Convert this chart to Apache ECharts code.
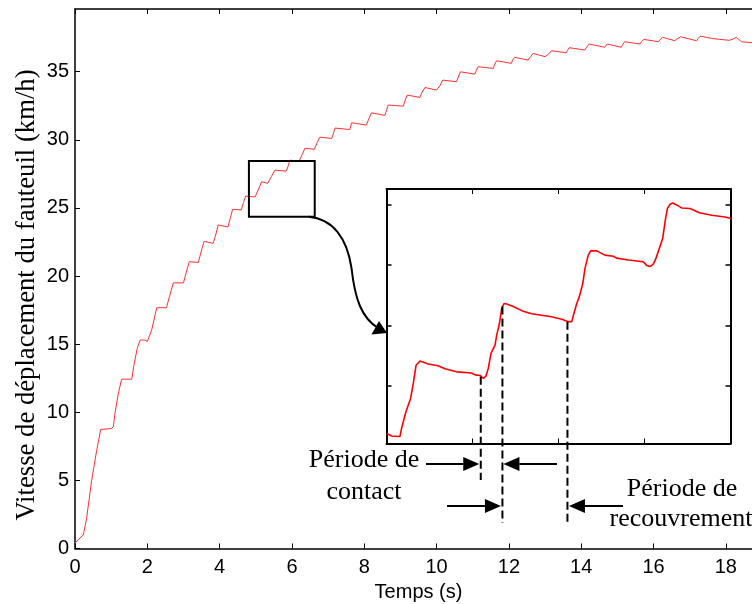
<!DOCTYPE html>
<html><head><meta charset="utf-8">
<script src="https://cdn.jsdelivr.net/npm/echarts@6/dist/echarts.min.js"></script>
<style>html,body{margin:0;padding:0;background:#fff;} #c{width:752px;height:604px;}</style>
</head><body><div id="c"></div>
<script>
// Main curve: time (s) and wheelchair speed (km/h)
const mainTime = [0, 0.23, 0.32, 0.46, 0.6, 0.71, 1.0, 1.06, 1.11, 1.2, 1.29, 1.57, 1.63, 1.72, 1.8, 1.93, 2.0, 2.12, 2.26, 2.53, 2.61, 2.72, 3.0, 3.08, 3.16, 3.41, 3.5, 3.57, 3.82, 3.9, 3.96, 4.23, 4.3, 4.36, 4.6, 4.66, 4.72, 4.98, 5.08, 5.16, 5.33, 5.43, 5.53, 5.84, 5.9, 5.94, 6.2, 6.28, 6.36, 6.62, 6.7, 6.77, 7.1, 7.15, 7.19, 7.6, 7.65, 8.06, 8.12, 8.2, 8.57, 8.62, 8.66, 9.08, 9.13, 9.19, 9.54, 9.6, 9.68, 10.0, 10.1, 10.17, 10.55, 10.6, 10.66, 11.06, 11.1, 11.15, 11.57, 11.6, 11.66, 12.07, 12.1, 12.16, 12.53, 12.6, 12.67, 13.0, 13.1, 13.18, 13.59, 13.62, 13.67, 14.1, 14.15, 14.22, 14.65, 14.68, 14.72, 15.11, 15.15, 15.2, 15.62, 15.67, 15.73, 16.13, 16.18, 16.25, 16.59, 16.65, 16.75, 17.19, 17.24, 17.3, 17.6, 17.83, 18.1, 18.2, 18.29, 18.43, 18.72, 19.0];
const mainSpeed = [0.4, 1.0, 2.2, 5.0, 7.2, 8.74, 8.8, 8.93, 10.0, 11.4, 12.43, 12.43, 13.46, 14.68, 15.3, 15.3, 15.2, 16.03, 17.67, 17.67, 18.47, 19.5, 19.5, 20.3, 21.05, 21.0, 21.9, 22.55, 22.4, 23.1, 23.75, 23.6, 24.3, 24.9, 24.85, 25.4, 25.87, 25.8, 26.4, 26.92, 26.8, 27.3, 27.77, 27.7, 28.1, 28.5, 28.45, 28.9, 29.38, 29.3, 29.8, 30.19, 30.1, 30.5, 30.86, 30.75, 31.25, 31.08, 31.5, 31.98, 31.79, 32.2, 32.55, 32.47, 32.9, 33.28, 33.11, 33.5, 33.84, 33.65, 34.0, 34.38, 34.26, 34.6, 34.99, 34.82, 35.1, 35.36, 35.24, 35.5, 35.8, 35.61, 35.85, 36.05, 35.85, 36.1, 36.34, 36.1, 36.3, 36.54, 36.39, 36.55, 36.76, 36.59, 36.8, 37.03, 36.79, 36.9, 37.03, 36.79, 37.0, 37.2, 37.03, 37.2, 37.37, 37.2, 37.35, 37.52, 37.27, 37.4, 37.56, 37.27, 37.45, 37.61, 37.44, 37.37, 37.3, 37.4, 37.52, 37.2, 37.13, 37.05];

// Inset (zoomed detail)
const insetTime = [4.501, 4.53, 4.578, 4.588, 4.613, 4.64, 4.656, 4.672, 4.695, 4.743, 4.80, 4.84, 4.908, 4.995, 5.015, 5.044, 5.063, 5.078, 5.092, 5.108, 5.131, 5.141, 5.156, 5.17, 5.183, 5.199, 5.237, 5.295, 5.344, 5.392, 5.46, 5.519, 5.557, 5.577, 5.592, 5.606, 5.621, 5.641, 5.654, 5.673, 5.687, 5.722, 5.77, 5.819, 5.838, 5.906, 5.993, 6.013, 6.032, 6.051, 6.067, 6.086, 6.106, 6.121, 6.133, 6.148, 6.164, 6.187, 6.216, 6.265, 6.319, 6.391, 6.468, 6.507];
const insetSpeed = [24.21, 24.17, 24.16, 24.30, 24.57, 24.79, 25.04, 25.34, 25.41, 25.36, 25.33, 25.28, 25.23, 25.21, 25.18, 25.17, 25.12, 25.16, 25.29, 25.54, 25.67, 25.84, 26.02, 26.28, 26.36, 26.35, 26.31, 26.23, 26.19, 26.17, 26.14, 26.10, 26.06, 26.06, 26.22, 26.36, 26.47, 26.69, 26.94, 27.16, 27.23, 27.23, 27.16, 27.14, 27.11, 27.08, 27.05, 26.99, 26.97, 27.01, 27.11, 27.27, 27.44, 27.74, 27.93, 28.00, 28.02, 27.99, 27.94, 27.93, 27.86, 27.82, 27.79, 27.76];
const insetYTicks = [25, 26, 27, 28];

// Annotation anchors (data coordinates)
const zoomBoxMin = [4.81, 24.35];
const zoomBoxMax = [6.63, 28.44];
const markTimes = [5.048, 5.174, 5.552];
const markSpeeds = [25.15, 26.31, 26.06];

const yTitle = 'Vitesse de déplacement du fauteuil (km/h)';
const xTitle = 'Temps (s)';

const sans = '"Liberation Sans", Arial, Helvetica, sans-serif';
const serif = '"Liberation Serif", "Times New Roman", serif';

const chart = echarts.init(document.getElementById('c'), null, {renderer: 'canvas'});

function frameAxis(extra) {
  return Object.assign({
    type: 'value',
    axisLine: {show: true, onZero: false, lineStyle: {color: '#000', width: 1.5}},
    axisTick: {show: true, inside: true, length: 5, lineStyle: {color: '#000', width: 1}},
    axisLabel: {show: false},
    splitLine: {show: false}
  }, extra);
}

const option = {
  animation: false,
  backgroundColor: '#fff',
  grid: [
    {left: 75, top: 9, width: 687, height: 539.5, containLabel: false, outerBoundsMode: 'none'},
    {left: 386.5, top: 189, width: 344, height: 254.5, show: true, backgroundColor: '#fff', borderWidth: 0, containLabel: false, outerBoundsMode: 'none'}
  ],
  xAxis: [
    frameAxis({gridIndex: 0, min: 0, max: 19, interval: 2, position: 'bottom',
      axisLabel: {show: true, color: '#000', fontFamily: sans, fontSize: 20, margin: 9, showMaxLabel: false},
      name: xTitle, nameLocation: 'middle', nameGap: 34,
      nameTextStyle: {color: '#000', fontFamily: sans, fontSize: 20}}),
    frameAxis({gridIndex: 0, min: 0, max: 19, interval: 2, position: 'top'}),
    frameAxis({gridIndex: 1, min: 4.5, max: 6.5, interval: 0.5, position: 'bottom',
      axisLine: {show: true, onZero: false, lineStyle: {color: '#000', width: 2}}}),
    frameAxis({gridIndex: 1, min: 4.5, max: 6.5, interval: 0.5, position: 'top',
      axisLine: {show: true, onZero: false, lineStyle: {color: '#000', width: 2}}})
  ],
  yAxis: [
    frameAxis({gridIndex: 0, min: 0, max: 39.6, interval: 5, position: 'left',
      axisLabel: {show: true, color: '#000', fontFamily: sans, fontSize: 20, margin: 6, showMaxLabel: false}}),
    frameAxis({gridIndex: 0, min: 0, max: 39.6, interval: 5, position: 'right'}),
    frameAxis({gridIndex: 1, min: 24.045, max: 28.253, position: 'left',
      axisLine: {show: true, onZero: false, lineStyle: {color: '#000', width: 2}},
      axisTick: {show: true, inside: true, length: 5, customValues: insetYTicks, lineStyle: {color: '#000', width: 1.5}},
      axisLabel: {show: false, customValues: insetYTicks}}),
    frameAxis({gridIndex: 1, min: 24.045, max: 28.253, position: 'right',
      axisLine: {show: true, onZero: false, lineStyle: {color: '#000', width: 2}},
      axisTick: {show: true, inside: true, length: 5, customValues: insetYTicks, lineStyle: {color: '#000', width: 1.5}},
      axisLabel: {show: false, customValues: insetYTicks}})
  ],
  series: [
    {type: 'line', xAxisIndex: 0, yAxisIndex: 0, symbol: 'none', clip: true,
      data: mainTime.map((t, i) => [t, mainSpeed[i]]),
      lineStyle: {color: '#ff3030', width: 1}},
    {type: 'line', xAxisIndex: 2, yAxisIndex: 2, symbol: 'none', clip: true,
      data: insetTime.map((t, i) => [t, insetSpeed[i]]),
      lineStyle: {color: '#ff0000', width: 1.6}}
  ]
};
chart.setOption(option);

// Annotations
const a = chart.convertToPixel({gridIndex: 0}, [zoomBoxMin[0], zoomBoxMax[1]]);
const b = chart.convertToPixel({gridIndex: 0}, [zoomBoxMax[0], zoomBoxMin[1]]);
const marks = markTimes.map((t, i) => chart.convertToPixel({gridIndex: 1}, [t, markSpeeds[i]]));
const markBottoms = [480, 523, 525];

const g = [];
// y-axis title
g.push({type: 'text', x: 27, y: 295, rotation: Math.PI / 2, z: 100,
  style: {text: yTitle, fill: '#000', fontFamily: serif, fontSize: 26.7, textAlign: 'center', textVerticalAlign: 'middle', verticalAlign: 'middle'}});
g.push({type: 'rect', shape: {x: a[0], y: a[1], width: b[0] - a[0], height: b[1] - a[1]},
  style: {fill: 'none', stroke: '#000', lineWidth: 2}, z: 100});
// connector
g.push({type: 'bezierCurve', shape: {x1: b[0] - 6, y1: b[1], cpx1: b[0] + 18, cpy1: b[1] + 2, cpx2: 347, cpy2: 238, x2: 351.5, y2: 268},
  style: {fill: 'none', stroke: '#000', lineWidth: 2}, z: 100});
g.push({type: 'bezierCurve', shape: {x1: 351.5, y1: 268, cpx1: 355, cpy1: 300, cpx2: 362, cpy2: 318, x2: 378, y2: 328},
  style: {fill: 'none', stroke: '#000', lineWidth: 2}, z: 100});
g.push({type: 'polygon', shape: {points: [[387, 333], [371.5, 334.5], [379, 321]]}, style: {fill: '#000'}, z: 100});
// dashed lines
marks.forEach((p, i) => {
  g.push({type: 'line', shape: {x1: p[0], y1: p[1], x2: p[0], y2: markBottoms[i]},
    style: {stroke: '#000', lineWidth: 2, lineDash: [8, 4]}, z: 100});
});
function arrow(x0, tipX, y) {
  const dir = tipX > x0 ? 1 : -1;
  const baseX = tipX - dir * 16;
  g.push({type: 'line', shape: {x1: x0, y1: y, x2: baseX, y2: y}, style: {stroke: '#000', lineWidth: 2}, z: 100});
  g.push({type: 'polygon', shape: {points: [[tipX, y], [baseX, y - 7], [baseX, y + 7]]}, style: {fill: '#000'}, z: 100});
}
arrow(426, marks[0][0] - 1.5, 464);
arrow(557, marks[1][0] + 1, 464);
arrow(447, marks[1][0] - 1.5, 506);
arrow(623, marks[2][0] + 1.5, 506);
function label(text, x, y) {
  g.push({type: 'text', x: x, y: y, z: 100,
    style: {text: text, fill: '#000', fontFamily: serif, fontSize: 26, textAlign: 'center', textVerticalAlign: 'middle', verticalAlign: 'middle'}});
}
label('Période de', 364, 460.5);
label('contact', 364, 492.5);
label('Période de', 682, 489.5);
label('recouvrement', 681, 519.5);
chart.setOption({graphic: g});
</script>
</body></html>
